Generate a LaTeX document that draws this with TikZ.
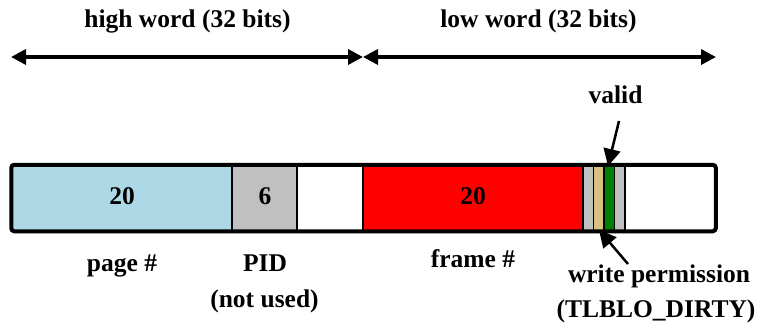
\documentclass[tikz,border=0pt]{standalone}
\usepackage{fontspec}
\setmainfont{Liberation Serif}
\usetikzlibrary{arrows.meta}
\definecolor{segblue}{RGB}{173,216,230}
\definecolor{seggray}{RGB}{192,192,192}
\definecolor{segred}{RGB}{255,0,0}
\definecolor{segtan}{RGB}{216,192,128}
\definecolor{seggreen}{RGB}{0,128,0}
\begin{document}
\begin{tikzpicture}[x=1pt,y=-1pt,
  lbl/.style={font=\fontsize{25.5}{30}\selectfont\bfseries, inner sep=0pt, anchor=base},
  seg/.style={draw=black, line width=1.5pt, inner sep=0pt, minimum height=65pt,
     font=\fontsize{25.5}{30}\selectfont\bfseries, text depth=0pt},
  span/.style={line width=3.5pt, {Triangle[length=15pt,width=15pt]}-{Triangle[length=15pt,width=15pt]}, shorten <=0pt, shorten >=0pt},
  ptr/.style={line width=2.5pt, -{Triangle[length=17pt,width=17pt]}}
]
\useasboundingbox (0,0) rectangle (763,327);
% top spans
\coordinate (hl) at (11,57);
\coordinate (mid) at (363,57);
\coordinate (hr) at (716,57);
\draw[span] (hl) -- (mid);
\draw[span] (mid) -- (hr);
\node[lbl] (hw) at (187.5,27) {high word (32 bits)};
\node[lbl] (lw) at (538.5,27) {low word (32 bits)};
% segments
\node[seg, fill=segblue, minimum width=220pt] (page) at (122,198) {};
\node[seg, fill=seggray, minimum width=65pt] (pid) at (264.5,198) {};
\node[seg, fill=white, minimum width=66pt] (unused) at (330,198) {};
\node[seg, fill=segred, minimum width=220pt] (frame) at (473,198) {};
\node[seg, fill=seggray, minimum width=10.5pt] (b1) at (588.25,198) {};
\node[seg, fill=segtan, minimum width=10.5pt] (wr) at (598.75,198) {};
\node[seg, fill=seggreen, minimum width=10.5pt] (val) at (609.25,198) {};
\node[seg, fill=seggray, minimum width=10.5pt] (b2) at (619.75,198) {};
\node[seg, fill=white, minimum width=90pt] (rest) at (670,198) {};
\draw[line width=4pt, rounded corners=3pt] (page.north west) rectangle (rest.south east);
% numbers
\node[lbl] (n20a) at (122,204) {20};
\node[lbl] (n6) at (265,204) {6};
\node[lbl] (n20b) at (473,204) {20};
% labels
\node[lbl] (pagel) at (122,271) {page \#};
\node[lbl] (pidl) at (265,271) {PID};
\node[lbl] (nul) at (264.5,307) {(not used)};
\node[lbl] (framel) at (473,267) {frame \#};
\node[lbl] (wpl) at (659,282) {write permission};
\node[lbl] (dirty) at (656,317) {(TLBLO\_DIRTY)};
\node[lbl] (validl) at (615.5,103) {valid};
% pointers
\coordinate (vs) at (619,121);
\coordinate (vt) at (608,166);
\draw[ptr] (vs) -- (vt);
\coordinate (ws) at (628,264);
\coordinate (wt) at (599,230);
\draw[ptr] (ws) -- (wt);
\end{tikzpicture}
\end{document}
